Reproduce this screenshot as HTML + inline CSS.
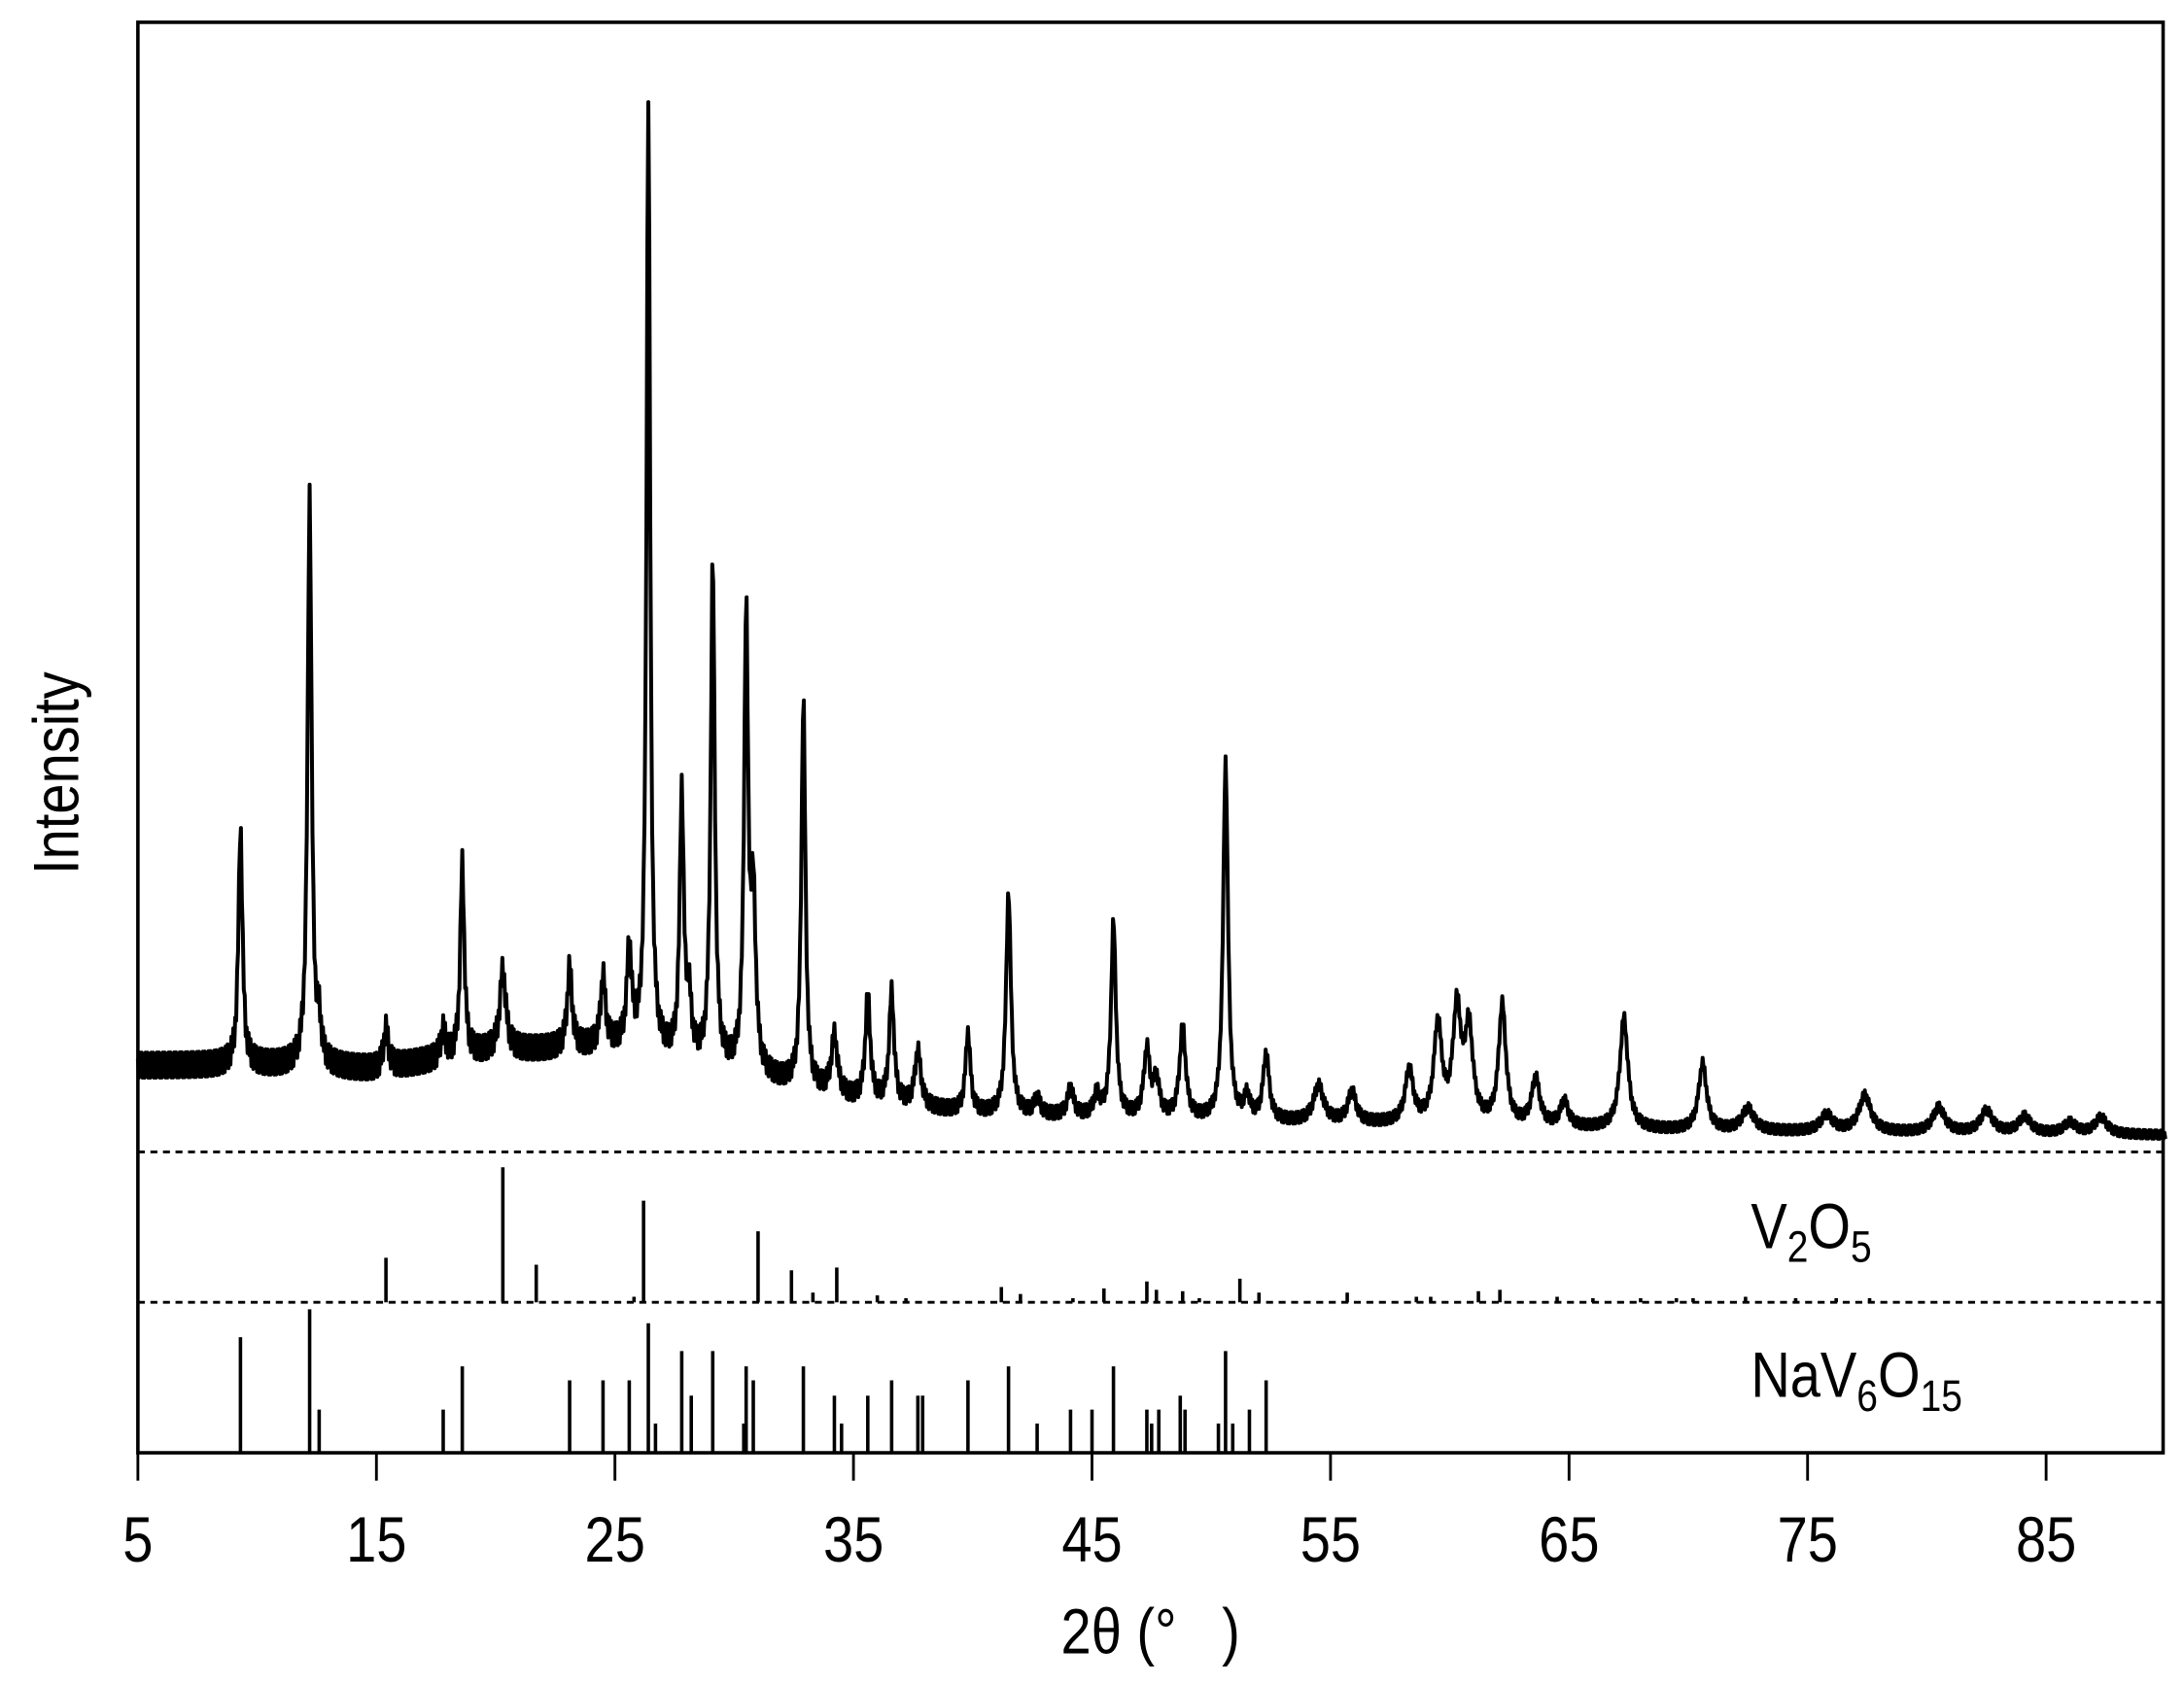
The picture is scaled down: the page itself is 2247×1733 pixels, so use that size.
<!DOCTYPE html>
<html><head><meta charset="utf-8"><style>
html,body{margin:0;padding:0;background:#fff;}
svg{display:block;}
text{font-family:"Liberation Sans",Arial,sans-serif;fill:#000;}
</style></head><body>
<svg id="chart" width="2247" height="1733" viewBox="0 0 1568 1209" preserveAspectRatio="none" xmlns="http://www.w3.org/2000/svg">
<g id="plot"></g>
<rect x="99" y="16" width="1454" height="1027" fill="none" stroke="#000" stroke-width="2.5"/>
<line x1="99" y1="827" x2="1553" y2="827" stroke="#000" stroke-width="2" stroke-dasharray="5,4"/>
<line x1="99" y1="935" x2="1553" y2="935" stroke="#000" stroke-width="2" stroke-dasharray="5,4"/>
<g id="ticks"></g>
<text transform="translate(1257,896) scale(0.85,1)" font-size="46">V<tspan font-size="32" dy="10">2</tspan><tspan dy="-10">O</tspan><tspan font-size="32" dy="10">5</tspan></text>
<text transform="translate(1257,1003) scale(0.85,1)" font-size="46">NaV<tspan font-size="32" dy="10">6</tspan><tspan dy="-10">O</tspan><tspan font-size="32" dy="10">15</tspan></text>
<text transform="translate(826,1187) scale(0.85,1)" font-size="46" text-anchor="middle">2θ (°&#160;&#160;&#160;)</text>
<text transform="translate(56,555) rotate(-90) scale(0.85,1)" font-size="46" text-anchor="middle">Intensity</text>
</svg>
<script>
// Observed pattern (pixel-intensity units above baseline of upper panel)
const bgAngles=[5,10,15,20,25,30,35,40,50,60,70,90];
const bgValues=[62,62,59,72,75,57,37,27,22,19,15,12];
const noiseAngles=[5,20,30,40,55,90];
const noiseValues=[9,9,8,5,4,3];
const peakPos=[9.3,12.2,12.6,15.4,17.8,18.6,20.3,23.1,24.5,25.6,26.4,27.8,28.1,29.1,30.5,30.8,32.9,34.2,35.6,36.6,37.7,39.8,41.5,42.7,44.1,45.2,45.9,47.3,47.7,48.8,50.6,51.5,52.3,54.5,55.9,58.3,59.5,60.3,60.8,62.2,63.6,64.8,67.3,70.6,72.5,75.8,77.4,80.5,82.5,84.1,86,87.3];
const peakAmp=[172,412,25,28,20,138,58,58,50,70,688,190,40,362,326,120,280,42,76,80,40,58,160,12,20,15,140,48,26,66,258,16,48,26,22,38,70,80,66,86,34,18,80,48,16,12,26,18,16,12,8,12];
const peakWidth=[0.1,0.1,0.1,0.12,0.12,0.1,0.15,0.12,0.12,0.12,0.09,0.1,0.12,0.1,0.1,0.12,0.1,0.15,0.12,0.12,0.15,0.12,0.12,0.15,0.15,0.15,0.12,0.15,0.15,0.15,0.12,0.15,0.15,0.25,0.2,0.2,0.2,0.2,0.2,0.18,0.2,0.2,0.2,0.2,0.3,0.3,0.3,0.3,0.3,0.3,0.3,0.3];
// Reference sticks
const v2o5Pos=[15.4,20.3,21.7,26.2,31.0,32.4,33.3,34.3,36.0,41.2,42.0,45.5,47.3,47.7,48.8,51.2,52.0,55.7,61.2,62.1,25.8,37.2,44.2,49.5,58.6,59.2,64.5,66.0,68.0,69.5,70.2,72.4,74.5,76.2,77.6];
const v2o5Int=[32,97,27,73,51,23,7,25,5,11,6,10,15,9,8,17,7,7,8,9,4,3,3,3,4,4,4,3,3,3,3,4,3,3,3];
const navPos=[9.3,12.2,12.6,17.8,18.6,23.1,24.5,25.6,26.4,26.7,27.8,28.2,29.1,30.4,30.5,30.8,32.9,34.2,34.5,35.6,36.6,37.7,37.9,39.8,41.5,42.7,44.1,45.0,45.9,47.3,47.5,47.8,48.7,48.9,50.3,50.6,50.9,51.6,52.3];
const navInt=[83,103,31,31,62,52,52,52,93,21,73,41,73,21,62,52,62,41,21,41,52,41,41,52,62,21,31,31,62,31,21,31,41,31,21,73,21,31,52];
const xTicks=[5,15,25,35,45,55,65,75,85];

const X0=99,PX=17.125;
const xs=a=>X0+(a-5)*PX;
const yTop=v=>827-v;
const yV=v=>935-v;
const yN=v=>1043-v;
function interp(A,V,a){for(let i=0;i<A.length-1;i++){if(a<=A[i+1]){const t=(a-A[i])/(A[i+1]-A[i]);return V[i]+t*(V[i+1]-V[i]);}}return V[V.length-1];}
const NS='http://www.w3.org/2000/svg';
const plot=document.getElementById('plot');
let d='';let k=0;
for(let a=5;a<=90.001;a+=0.04){
  let v=interp(bgAngles,bgValues,a);
  for(let i=0;i<peakPos.length;i++){const g=peakWidth[i];const dx=(a-peakPos[i])/g;v+=peakAmp[i]/(1+dx*dx);}
  const n=interp(noiseAngles,noiseValues,a)*((k%2)?1:-1)*((k%3)?1:0.5);k++;
  d+=(d?'L':'M')+xs(a).toFixed(2)+','+(yTop(v)+n).toFixed(2);
}
const p=document.createElementNS(NS,'path');


p.setAttribute('d',d);p.setAttribute('fill','none');p.setAttribute('stroke','#000');p.setAttribute('stroke-width','2.8');p.setAttribute('stroke-linejoin','round');
plot.appendChild(p);
function sticks(P,I,yf,name){
  for(let i=0;i<P.length;i++){
    const l=document.createElementNS(NS,'line');
    
    
    l.setAttribute('x1',xs(P[i]));l.setAttribute('x2',xs(P[i]));
    l.setAttribute('y1',yf(0));l.setAttribute('y2',yf(I[i]));
    l.setAttribute('stroke','#000');l.setAttribute('stroke-width','2.5');
    plot.appendChild(l);
  }
}
sticks(v2o5Pos,v2o5Int,yV,'v2o5-stick');
sticks(navPos,navInt,yN,'nav6o15-stick');
const tg=document.getElementById('ticks');
for(const t of xTicks){
  const l=document.createElementNS(NS,'line');
  
  
  l.setAttribute('x1',xs(t));l.setAttribute('x2',xs(t));l.setAttribute('y1',1043);l.setAttribute('y2',1063);
  l.setAttribute('stroke','#000');l.setAttribute('stroke-width','2');
  tg.appendChild(l);
  const tx=document.createElementNS(NS,'text');
  
  
  tx.setAttribute('transform','translate('+xs(t)+',1121) scale(0.85,1)');
  tx.setAttribute('font-size','46');tx.setAttribute('text-anchor','middle');
  tx.textContent=t;
  tg.appendChild(tx);
}
</script>
</body></html>
